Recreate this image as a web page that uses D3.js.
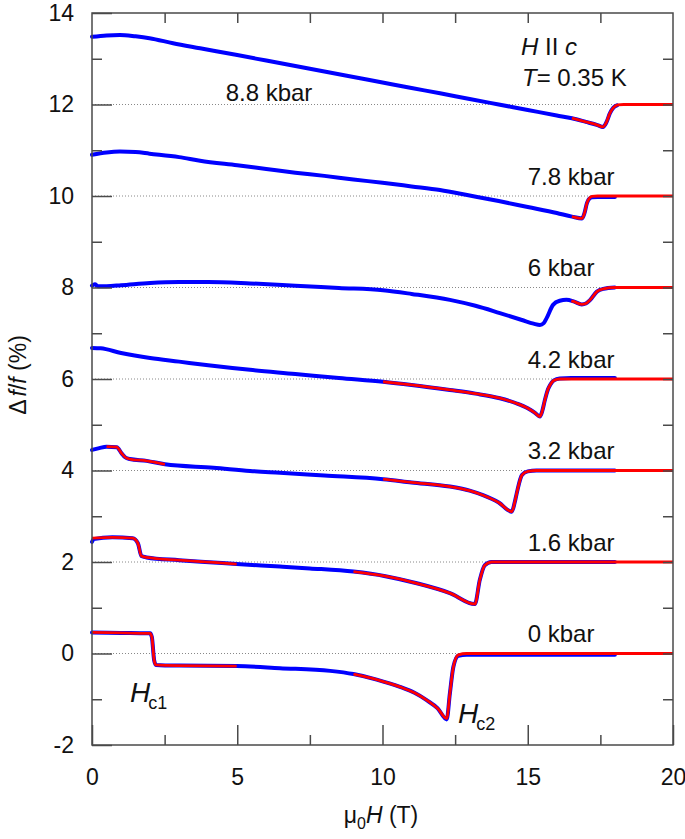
<!DOCTYPE html>
<html><head><meta charset="utf-8">
<script src="https://cdn.jsdelivr.net/npm/d3@7"></script>
<style>
html,body{margin:0;padding:0;background:#fff;}
text{font-family:"Liberation Sans",Arial,Helvetica,sans-serif;fill:#111;}
</style></head>
<body>
<svg id="chart" width="685" height="839"></svg>
<script>
// ---------- data (H in tesla, Δf/f in % incl. vertical offset) ----------
const pressureLabels = ["0 kbar","1.6 kbar","3.2 kbar","4.2 kbar","6 kbar","7.8 kbar","8.8 kbar"];
const offsets = [0,2,4,6,8,10,12];
const xTicks = [0,5,10,15,20];
const yTicks = [-2,0,2,4,6,8,10,12,14];

const blue0 = [[0,0.46],[1.0,0.45],[1.9,0.44],[2.0,0.44],[2.06,0.36],[2.14,-0.15],[2.2,-0.25],[3.0,-0.265],[4.98,-0.275],[6.47,-0.32],[8.2,-0.38],[9.0,-0.45],[9.8,-0.57],[10.6,-0.73],[11.1,-0.86],[11.52,-1.02],[11.9,-1.2],[12.21,-1.44],[12.32,-0.87],[12.44,-0.29],[12.61,-0.05],[12.9,-0.03],[18.0,-0.03]];
const fit0a = [[0,0.46],[1.0,0.45],[1.9,0.44],[2.0,0.44],[2.06,0.36],[2.14,-0.15],[2.2,-0.25],[3.0,-0.265],[4.98,-0.275]];
const fit0b = [[9.0,-0.45],[9.8,-0.57],[10.6,-0.73],[11.1,-0.86],[11.52,-1.02],[11.9,-1.2],[12.21,-1.42],[12.32,-0.87],[12.44,-0.29],[12.61,-0.03],[12.9,0],[20,0]];

const blue16 = [[0,2.44],[0.05,2.5],[0.7,2.54],[1.4,2.52],[1.58,2.41],[1.7,2.13],[1.88,2.10],[3.0,2.04],[4.18,1.99],[4.98,1.955],[6.47,1.90],[7.5,1.86],[9.0,1.79],[10.1,1.69],[11.18,1.535],[12.32,1.32],[13.18,1.08],[13.35,1.61],[13.52,1.93],[13.75,2.0],[18.0,2.0]];
const fit16a = [[0,2.52],[0.7,2.54],[1.4,2.52],[1.58,2.41],[1.7,2.13],[1.88,2.10],[3.0,2.04],[4.18,1.99],[4.98,1.955]];
const fit16b = [[9.0,1.79],[10.1,1.69],[11.18,1.535],[12.32,1.32],[13.18,1.08],[13.35,1.61],[13.52,1.93],[13.75,2.0],[20,2.0]];

const blue32 = [[0,4.45],[0.25,4.49],[0.5,4.52],[0.85,4.51],[1.02,4.375],[1.14,4.29],[1.3,4.25],[1.88,4.21],[2.51,4.135],[4.18,4.06],[5.44,3.99],[6.47,3.95],[8.0,3.89],[10.02,3.81],[11.0,3.74],[12.32,3.65],[13.0,3.56],[13.46,3.46],[14.0,3.30],[14.45,3.10],[14.55,3.3],[14.62,3.50],[14.8,3.90],[15.0,3.98],[15.3,4.0],[18.0,4.0]];
const fit32a = [[0.5,4.52],[0.85,4.51],[1.02,4.375],[1.14,4.29],[1.3,4.25],[1.88,4.21],[2.51,4.135]];
const fit32b = [[10.02,3.81],[11.0,3.74],[12.32,3.65],[13.0,3.56],[13.46,3.46],[14.0,3.30],[14.45,3.10],[14.55,3.3],[14.62,3.50],[14.8,3.90],[15.0,3.98],[15.3,4.0],[20,4.0]];

const blue42 = [[0,6.68],[0.3,6.67],[1,6.57],[2,6.46],[3,6.38],[4,6.30],[5.44,6.20],[7,6.11],[8.5,6.02],[10.02,5.94],[11,5.87],[12.32,5.76],[13.2,5.68],[14.04,5.58],[14.6,5.47],[15.0,5.36],[15.25,5.26],[15.42,5.18],[15.5,5.30],[15.59,5.54],[15.7,5.78],[15.77,5.87],[15.9,5.97],[16.1,6.01],[16.5,6.02],[18.0,6.02]];
const fit42 = [[10.02,5.94],[11,5.87],[12.32,5.76],[13.2,5.68],[14.04,5.58],[14.6,5.47],[15.0,5.36],[15.25,5.26],[15.42,5.18],[15.5,5.30],[15.59,5.54],[15.7,5.78],[15.77,5.87],[15.9,5.97],[16.1,6.0],[20,6.0]];

const blue6 = [[0,8.04],[0.1,8.07],[0.2,8.03],[0.5,8.03],[1,8.05],[2,8.10],[3,8.12],[4,8.12],[5.44,8.09],[7,8.04],[8.5,7.99],[10.02,7.94],[11,7.86],[12.32,7.73],[13.2,7.60],[14.04,7.44],[14.8,7.29],[15.2,7.21],[15.42,7.18],[15.55,7.22],[15.65,7.33],[15.87,7.62],[16.1,7.71],[16.33,7.73],[16.6,7.69],[16.86,7.63],[17.0,7.65],[17.15,7.73],[17.38,7.91],[17.6,7.97],[18.0,8.0]];
const fit6 = [[16.5,7.71],[16.6,7.69],[16.86,7.63],[17.0,7.65],[17.15,7.73],[17.38,7.91],[17.6,7.97],[18.0,8.0],[20,8.0]];

const blue78 = [[0,10.90],[0.5,10.95],[0.96,10.97],[1.5,10.96],[1.98,10.925],[3,10.85],[3.72,10.77],[5,10.67],[6,10.59],[7,10.51],[8,10.44],[9,10.36],[10,10.29],[11,10.21],[11.98,10.13],[13,10.01],[14,9.89],[15,9.76],[16,9.63],[16.52,9.55],[16.87,9.51],[16.95,9.62],[17.04,9.85],[17.12,9.94],[17.21,9.97],[17.4,9.98],[18.0,9.98]];
const fit78 = [[16.52,9.55],[16.87,9.51],[16.95,9.62],[17.04,9.85],[17.12,9.95],[17.21,9.99],[17.4,10.0],[20,10.0]];

const blue88 = [[0,13.48],[0.5,13.51],[0.96,13.52],[1.5,13.49],[1.98,13.45],[2.79,13.34],[3.72,13.23],[5,13.08],[6,12.96],[7,12.84],[8,12.72],[9,12.60],[10,12.48],[11,12.36],[11.98,12.245],[13,12.12],[14,12.0],[15,11.88],[16,11.76],[16.52,11.70],[17,11.62],[17.4,11.55],[17.59,11.51],[17.7,11.6],[17.83,11.81],[17.95,11.93],[18.07,11.98]];
const fit88 = [[16.52,11.70],[17,11.62],[17.4,11.55],[17.59,11.51],[17.7,11.6],[17.83,11.81],[17.95,11.93],[18.1,11.99],[18.3,12.0],[20,12.0]];

const dataSeries = [blue0,blue16,blue32,blue42,blue6,blue78,blue88];
const fitSeries = [fit0a,fit0b,fit16a,fit16b,fit32a,fit32b,fit42,fit6,fit78,fit88];

// ---------- drawing ----------
const svg = d3.select("#chart");
const x = d3.scaleLinear().domain([0,20]).range([92,673]);
const y = d3.scaleLinear().domain([-2,14]).range([745,13]);
const axisColor = "#4a4a4a";
const fmt = d => String(d); // plain hyphen-minus like the original

// dotted reference lines
svg.append("g").selectAll("line").data(offsets).join("line")
  .attr("x1", x(0)).attr("x2", x(20))
  .attr("y1", d => y(d)).attr("y2", d => y(d))
  .attr("stroke", "#888").attr("stroke-width", 1)
  .attr("stroke-dasharray", "1,2");

const line = d3.line().x(d => x(d[0])).y(d => y(d[1])).curve(d3.curveMonotoneX);

svg.append("g").selectAll("path").data(dataSeries).join("path")
  .attr("d", line).attr("fill", "none")
  .attr("stroke", "#0000ff").attr("stroke-width", 4)
  .attr("stroke-linejoin", "round").attr("stroke-linecap", "round");

svg.append("g").selectAll("path").data(fitSeries).join("path")
  .attr("d", line).attr("fill", "none")
  .attr("stroke", "#ff0000").attr("stroke-width", 2.8)
  .attr("stroke-linejoin", "round").attr("stroke-linecap", "butt");

// axes
function styleAxis(g){
  g.select(".domain").remove();
  g.selectAll(".tick line").attr("stroke", axisColor).attr("stroke-width", 1.5);
  g.selectAll("text").attr("fill", "#222").style("font-size", "23px")
    .style("font-family", "'Liberation Sans', Arial, sans-serif");
}
const minorX = d3.range(2.5, 20, 5);
const minorY = d3.range(-1, 14, 2);

svg.append("g").attr("transform", `translate(0,${y(-2)})`)
  .call(d3.axisBottom(x).tickValues(xTicks).tickSize(-20).tickPadding(24).tickFormat(fmt))
  .call(styleAxis);
svg.append("g").attr("transform", `translate(0,${y(-2)})`)
  .call(d3.axisBottom(x).tickValues(minorX).tickSize(-10).tickFormat(""))
  .call(styleAxis);
svg.append("g").attr("transform", `translate(0,${y(14)})`)
  .call(d3.axisTop(x).tickValues(d3.range(2.5, 20, 2.5)).tickSize(-10).tickFormat(""))
  .call(styleAxis);
svg.append("g").attr("transform", `translate(${x(0)},0)`)
  .call(d3.axisLeft(y).tickValues(yTicks).tickSize(-20).tickPadding(18).tickFormat(fmt))
  .call(styleAxis);
svg.append("g").attr("transform", `translate(${x(0)},0)`)
  .call(d3.axisLeft(y).tickValues(minorY).tickSize(-10).tickFormat(""))
  .call(styleAxis);
svg.append("g").attr("transform", `translate(${x(20)},0)`)
  .call(d3.axisRight(y).tickValues(d3.range(-1, 14, 1)).tickSize(-10).tickFormat(""))
  .call(styleAxis);

// frame
svg.append("rect").attr("x", x(0)).attr("y", y(14))
  .attr("width", x(20) - x(0)).attr("height", y(-2) - y(14))
  .attr("fill", "none").attr("stroke", axisColor).attr("stroke-width", 1.5);

// axis titles
const xt = svg.append("text").attr("x", 381).attr("y", 823).attr("text-anchor", "middle").style("font-size", "23px");
xt.append("tspan").text("μ");
xt.append("tspan").text("0").style("font-size", "16px").attr("dy", 6);
xt.append("tspan").text("H").style("font-style", "italic").attr("dy", -6);
xt.append("tspan").text(" (T)");

const yt = svg.append("text").attr("transform", "translate(26,375) rotate(-90)")
  .attr("text-anchor", "middle").style("font-size", "23px");
yt.append("tspan").text("Δ");
yt.append("tspan").text("f").style("font-style", "italic").attr("dx", 3);
yt.append("tspan").text("/");
yt.append("tspan").text("f").style("font-style", "italic");
yt.append("tspan").text(" (%)");

// pressure labels
svg.append("g").selectAll("text").data(pressureLabels).join("text")
  .attr("x", (d, i) => i === 6 ? x(4.6) : x(15.0))
  .attr("y", (d, i) => i === 6 ? y(offsets[i] + 0.08) : y(offsets[i] + 0.25))
  .style("font-size", "24px")
  .text(d => d);

// field / temperature annotation
const a1 = svg.append("text").attr("x", 521).attr("y", 55).style("font-size", "24px");
a1.append("tspan").text("H").style("font-style", "italic");
a1.append("tspan").text(" II ");
a1.append("tspan").text("c").style("font-style", "italic");
const a2 = svg.append("text").attr("x", 522).attr("y", 86).style("font-size", "24px");
a2.append("tspan").text("T").style("font-style", "italic");
a2.append("tspan").text("= 0.35 K");

// critical field labels
function critLabel(px, py, sub){
  const t = svg.append("text").attr("x", px).attr("y", py).style("font-size", "28px");
  t.append("tspan").text("H").style("font-style", "italic");
  t.append("tspan").text(sub).style("font-size", "18px").attr("dy", 7).attr("dx", -2);
}
critLabel(130, 702, "c1");
critLabel(458, 723, "c2");
</script>
</body></html>
